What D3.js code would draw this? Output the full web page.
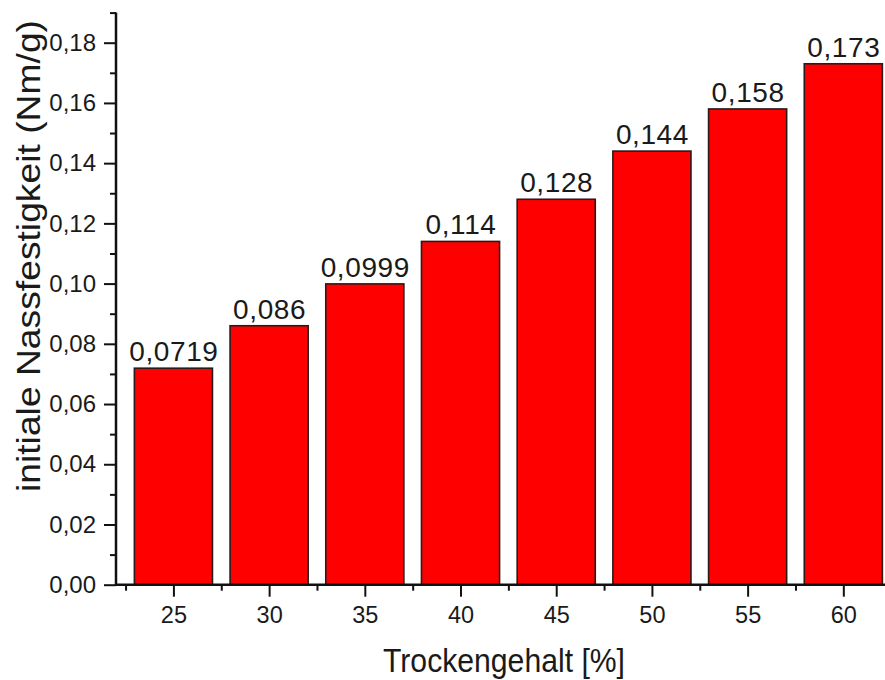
<!DOCTYPE html>
<html><head><meta charset="utf-8">
<script src="https://cdn.jsdelivr.net/npm/d3@7"></script>
<style>body{margin:0;background:#fff;} text{font-family:Arial,"Liberation Sans",sans-serif;fill:#1a1a1a;}</style>
</head><body>
<svg id="c" width="885" height="680"></svg>
<script>
const categories = [25, 30, 35, 40, 45, 50, 55, 60];
const values = [0.0719, 0.086, 0.0999, 0.114, 0.128, 0.144, 0.158, 0.173];
const valueLabels = ["0,0719", "0,086", "0,0999", "0,114", "0,128", "0,144", "0,158", "0,173"];
const yTicks = [0, 0.02, 0.04, 0.06, 0.08, 0.10, 0.12, 0.14, 0.16, 0.18];
const yMinor = [0.01, 0.03, 0.05, 0.07, 0.09, 0.11, 0.13, 0.15, 0.17, 0.19];
const xMinor = [22.5, 27.5, 32.5, 37.5, 42.5, 47.5, 52.5, 57.5, 62.5];

(function () {
const svg = d3.select("#c");
const mLeft = 116, mBottom = 584.7, mRight = 900;
const x = d3.scaleLinear().domain([22, 63.2]).range([mLeft, mLeft + 41.2 * 19.14]);
const y = d3.scaleLinear().domain([0, 0.19]).range([mBottom, mBottom - 0.19 / 0.18 * 542]);
const barHalf = 2.04;
const FF = "Arial, 'Liberation Sans', sans-serif";

svg.selectAll("rect.bar").data(values).join("rect")
  .attr("x", (d, i) => x(categories[i] - barHalf))
  .attr("width", (d, i) => x(categories[i] + barHalf) - x(categories[i] - barHalf))
  .attr("y", d => y(d))
  .attr("height", d => y(0) - y(d))
  .attr("fill", "#ff0000").attr("stroke", "#2a1a1a").attr("stroke-width", 1.6);

svg.selectAll("text.val").data(values).join("text")
  .attr("x", (d, i) => x(categories[i]) + 0.5)
  .attr("y", d => y(d) - 7)
  .attr("text-anchor", "middle").attr("font-size", 28).attr("letter-spacing", 0.6)
  .text((d, i) => valueLabels[i]);

const fmt = d => d.toFixed(2).replace(".", ",");
const yAxis = d3.axisLeft(y).tickValues(yTicks).tickFormat(fmt).tickSize(12).tickPadding(8);
const gy = svg.append("g").attr("transform", `translate(${mLeft},0)`).call(yAxis);
gy.select(".domain").remove();
gy.selectAll("line").attr("stroke", "#111").attr("stroke-width", 2);
gy.selectAll("text").attr("font-size", 24).attr("font-family", FF).attr("fill", "#1a1a1a");
const gym = svg.append("g").attr("transform", `translate(${mLeft},0)`)
  .call(d3.axisLeft(y).tickValues(yMinor).tickFormat("").tickSize(6));
gym.select(".domain").remove();
gym.selectAll("line").attr("stroke", "#111").attr("stroke-width", 2);

const xAxis = d3.axisBottom(x).tickValues(categories).tickFormat(d => d).tickSize(12).tickPadding(10);
const gx = svg.append("g").attr("transform", `translate(0,${mBottom})`).call(xAxis);
gx.select(".domain").remove();
gx.selectAll("line").attr("stroke", "#111").attr("stroke-width", 2);
gx.selectAll("text").attr("font-size", 23.5).attr("font-family", FF).attr("fill", "#1a1a1a");
const gxm = svg.append("g").attr("transform", `translate(0,${mBottom})`)
  .call(d3.axisBottom(x).tickValues(xMinor).tickFormat("").tickSize(6));
gxm.select(".domain").remove();
gxm.selectAll("line").attr("stroke", "#111").attr("stroke-width", 2);

svg.append("line").attr("x1", mLeft).attr("x2", mLeft).attr("y1", y(0.19)).attr("y2", mBottom + 1)
  .attr("stroke", "#111").attr("stroke-width", 2.5);
svg.append("line").attr("x1", mLeft - 1).attr("x2", mRight).attr("y1", mBottom).attr("y2", mBottom)
  .attr("stroke", "#111").attr("stroke-width", 2.5);

svg.append("text").attr("x", 504).attr("y", 672).attr("text-anchor", "middle")
  .attr("font-size", 34).attr("textLength", 242).attr("lengthAdjust", "spacingAndGlyphs")
  .text("Trockengehalt [%]");
svg.append("text").attr("transform", "translate(40,256) rotate(-90)").attr("text-anchor", "middle")
  .attr("font-size", 33).attr("textLength", 472).attr("lengthAdjust", "spacingAndGlyphs")
  .text("initiale Nassfestigkeit (Nm/g)");
})();
</script>
</body></html>
